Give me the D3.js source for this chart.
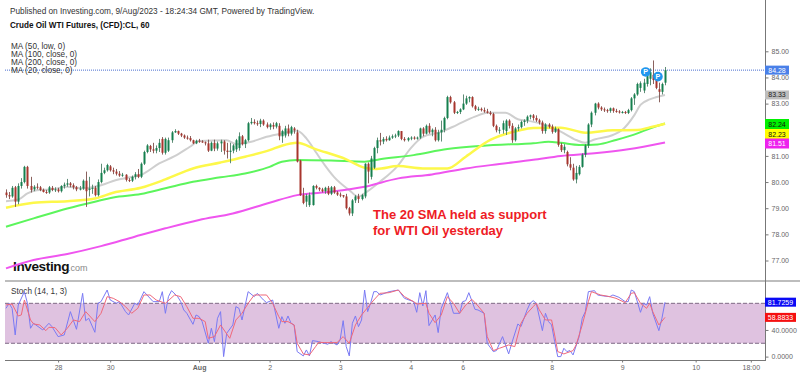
<!DOCTYPE html>
<html><head><meta charset="utf-8">
<script src="https://cdn.jsdelivr.net/npm/d3@7"></script>
<style>html,body{margin:0;padding:0;background:#fff}svg{display:block;font-family:"Liberation Sans",Arial,sans-serif}</style>
</head><body><svg id="c" width="800" height="376"></svg>
<script>
const opens=[79.60,79.50,79.45,79.80,79.25,79.85,80.00,80.58,79.85,79.72,79.82,79.80,79.70,79.62,79.60,79.78,79.70,79.72,79.65,79.85,79.90,79.95,79.88,79.80,79.72,79.75,80.05,79.70,79.75,79.78,79.50,80.00,80.35,80.45,80.60,80.45,80.40,80.32,80.25,80.28,80.08,80.05,80.20,80.30,80.20,80.70,81.15,81.38,81.25,81.20,81.30,81.65,81.12,81.20,81.60,81.90,81.95,81.85,81.78,81.70,81.68,81.60,81.48,81.58,81.55,81.52,81.48,81.20,81.50,81.28,81.48,81.55,81.20,81.15,81.20,81.25,81.30,81.75,81.45,81.60,82.25,82.30,82.25,82.22,82.35,82.20,82.10,82.18,82.12,82.15,81.75,81.78,82.05,81.85,82.05,81.90,80.82,79.50,79.25,79.12,79.12,79.85,79.78,79.72,79.65,79.78,79.55,79.80,79.60,79.52,79.50,79.45,79.00,78.80,79.30,79.45,79.35,79.45,80.70,80.20,80.55,81.30,81.60,81.55,81.65,81.60,81.70,81.75,81.78,81.95,81.65,81.60,81.68,81.70,81.66,81.70,82.05,81.85,82.15,81.90,82.00,81.60,81.90,82.00,82.45,83.25,83.05,82.65,82.68,82.78,83.00,83.20,83.25,82.90,82.78,82.80,82.75,82.70,82.65,82.60,82.15,81.98,82.00,81.95,82.35,82.15,81.60,82.05,82.10,82.30,82.35,82.50,82.55,82.45,82.36,82.28,81.95,82.20,82.12,81.92,82.02,81.42,81.22,81.15,80.68,80.55,80.10,80.30,80.58,81.05,81.40,82.20,82.65,83.00,82.85,82.78,82.75,82.72,82.82,82.72,82.70,82.66,82.68,82.64,82.75,83.20,83.35,83.60,83.50,83.75,83.95,84.10,84.15,83.55,83.45,83.80];
const highs=[79.72,79.62,79.85,79.85,79.95,80.15,80.62,80.62,80.20,79.88,79.95,79.85,79.75,79.70,79.85,79.85,79.80,79.78,79.88,79.98,80.12,80.00,79.95,79.85,79.85,80.10,80.40,80.20,79.90,79.85,80.10,80.70,80.55,80.70,80.65,80.55,80.50,80.42,80.35,80.30,80.15,80.25,80.38,80.50,80.75,81.20,81.45,81.42,81.50,81.40,81.65,81.72,81.70,81.70,81.95,82.02,81.97,81.88,81.82,81.78,81.76,81.62,81.62,81.65,81.60,81.55,81.62,81.55,81.62,81.55,81.62,81.60,81.50,81.50,81.45,81.65,81.90,81.80,81.65,82.30,82.45,82.40,82.35,82.42,82.40,82.28,82.25,82.28,82.30,82.25,82.00,82.15,82.20,82.15,82.10,82.00,80.85,79.78,79.55,79.60,79.88,79.90,79.80,79.78,79.82,79.85,79.85,79.85,79.65,79.60,79.50,79.55,79.05,79.35,79.50,79.55,79.55,80.72,80.75,81.00,81.35,81.70,81.88,81.72,81.75,81.78,81.82,81.85,81.98,81.95,81.72,81.72,81.75,81.75,81.74,82.08,82.10,82.20,82.25,82.05,82.10,82.00,82.35,82.50,83.30,83.30,83.10,82.72,82.82,83.35,83.30,83.28,83.28,82.95,82.88,82.85,82.85,82.80,82.72,82.65,82.20,82.10,82.35,82.40,82.40,82.25,82.10,82.20,82.35,82.40,82.55,82.58,82.60,82.55,82.42,82.35,82.25,82.25,82.20,82.12,82.05,81.50,81.45,81.20,80.95,80.70,80.62,80.65,81.10,81.45,82.25,82.70,83.03,83.05,82.90,82.85,82.80,82.85,82.85,82.80,82.75,82.72,82.72,82.80,83.25,83.40,83.80,83.85,83.95,84.10,84.35,84.65,84.20,83.80,83.80,84.40];
const lows=[79.40,79.35,79.40,79.05,79.15,79.75,79.95,79.75,79.60,79.65,79.72,79.65,79.60,79.55,79.55,79.65,79.62,79.60,79.60,79.75,79.82,79.80,79.72,79.65,79.68,79.70,79.05,79.45,79.55,79.45,79.45,79.95,80.30,80.40,80.40,80.30,80.25,80.20,80.20,80.02,80.00,80.00,80.10,80.15,80.15,80.65,81.10,81.15,81.10,81.10,81.15,81.05,81.05,81.15,81.50,81.88,81.80,81.72,81.65,81.62,81.55,81.45,81.45,81.50,81.50,81.40,81.15,81.18,81.18,81.20,81.15,81.05,80.90,80.72,81.10,81.15,81.20,81.40,81.30,81.55,82.20,82.20,82.15,82.10,82.15,82.05,82.00,82.02,82.05,81.60,81.50,81.70,81.75,81.78,81.85,80.75,79.47,79.15,79.05,79.05,79.10,79.72,79.65,79.60,79.55,79.50,79.50,79.55,79.47,79.42,79.40,78.95,78.72,78.70,79.20,79.20,79.30,79.38,79.95,80.10,80.50,81.10,81.40,81.45,81.55,81.58,81.65,81.68,81.72,81.60,81.55,81.55,81.60,81.62,81.62,81.65,81.75,81.82,81.85,81.75,81.55,81.55,81.55,81.90,82.40,83.00,82.60,82.60,82.60,82.75,82.95,83.05,82.85,82.72,82.72,82.70,82.65,82.62,82.55,82.10,81.90,81.85,81.85,81.80,82.05,81.50,81.55,81.95,82.05,82.15,82.25,82.40,82.35,82.30,82.20,81.85,81.85,82.05,81.85,81.88,81.35,81.15,81.10,80.60,80.45,80.05,79.95,80.25,80.55,80.95,81.30,82.10,82.55,82.78,82.72,82.68,82.65,82.65,82.65,82.65,82.62,82.62,82.60,82.60,82.70,82.95,83.30,83.45,83.40,83.65,83.70,83.75,83.55,83.05,83.35,83.70];
const closes=[79.50,79.45,79.78,79.25,79.85,80.00,80.58,79.85,79.70,79.82,79.80,79.70,79.62,79.60,79.80,79.70,79.72,79.65,79.85,79.90,79.95,79.88,79.80,79.72,79.75,80.05,79.65,79.75,79.78,79.50,80.00,80.35,80.45,80.65,80.45,80.40,80.32,80.25,80.28,80.08,80.05,80.20,80.30,80.20,80.70,81.15,81.40,81.25,81.20,81.30,81.50,81.12,81.65,81.60,81.90,81.95,81.85,81.78,81.70,81.68,81.60,81.48,81.58,81.55,81.52,81.48,81.20,81.50,81.28,81.48,81.55,81.20,81.15,81.20,81.40,81.60,81.75,81.45,81.60,82.25,82.30,82.25,82.22,82.35,82.20,82.10,82.20,82.12,82.25,81.75,81.95,82.05,81.85,82.10,81.98,80.78,79.50,79.20,79.48,79.50,79.85,79.78,79.72,79.65,79.78,79.55,79.80,79.60,79.52,79.50,79.45,79.00,78.80,79.30,79.45,79.35,79.50,80.70,80.40,80.90,81.30,81.60,81.55,81.65,81.60,81.70,81.75,81.78,81.95,81.65,81.60,81.68,81.70,81.66,81.70,82.05,81.85,82.15,81.90,82.00,81.60,81.90,82.00,82.45,83.25,83.05,82.65,82.68,82.78,83.00,83.20,83.25,82.90,82.78,82.80,82.75,82.70,82.65,82.60,82.15,81.98,82.00,82.25,82.35,82.15,81.60,82.05,82.10,82.30,82.35,82.50,82.55,82.45,82.36,82.28,81.95,82.20,82.12,81.92,82.05,81.42,81.22,81.35,80.68,80.55,80.10,80.35,80.58,81.05,81.40,82.20,82.65,83.00,82.85,82.78,82.75,82.72,82.82,82.72,82.70,82.66,82.68,82.64,82.75,83.20,83.35,83.75,83.78,83.80,84.05,84.20,83.90,83.60,83.45,83.75,84.28];

const ma20Idx=[0,4,7,10,15,20,25,31,36,40,44,50,55,60,63,72,75,80,85,90,95,98,101,104,107,112,115,117,122,128,132,136,142,147,153,157,163,167,171,176,181,186,189,192,198,201,205,207,210,212,215];
const ma20=[79.27,79.33,79.57,79.69,79.72,79.82,79.76,79.88,80.08,80.17,80.27,80.71,80.99,81.35,81.57,81.60,81.45,81.54,81.73,81.86,81.96,81.67,81.16,80.65,80.20,79.69,79.44,79.57,80.01,80.65,81.29,81.73,81.92,82.18,82.50,82.65,82.65,82.40,82.33,82.18,81.93,81.61,81.50,81.63,81.80,81.99,82.56,82.95,83.16,83.24,83.33];
const ma50Idx=[0,9,20,29,35,44,52,61,70,78,86,90,95,101,111,117,121,128,136,144,150,158,167,172,181,189,198,206,210,215];
const ma50=[79.02,79.21,79.27,79.37,79.59,79.78,80.10,80.52,80.75,80.97,81.22,81.39,81.50,81.26,80.87,80.55,80.50,80.61,80.52,80.52,80.97,81.61,81.96,82.07,82.08,81.89,81.98,81.99,82.09,82.23];
const ma100Idx=[0,9,20,29,35,44,52,61,70,78,86,90,95,106,117,122,133,144,155,166,172,177,181,187,193,199,206,210,215];
const ma100=[78.29,78.61,78.99,79.25,79.41,79.54,79.76,80.01,80.18,80.33,80.58,80.78,80.84,80.82,80.78,80.87,81.03,81.26,81.38,81.45,81.48,81.54,81.50,81.42,81.44,81.61,81.86,82.05,82.24];
const ma200Idx=[0,9,20,31,42,52,63,74,86,95,106,117,128,139,150,161,172,181,192,203,215];
const ma200=[76.70,77.02,77.25,77.55,77.91,78.23,78.55,78.80,79.21,79.50,79.63,79.82,80.14,80.29,80.52,80.69,80.85,81.00,81.10,81.25,81.51];

const blueIdx=[0,1,2,3,4,6,7,8,9,12,14,15,17,19,21,23,25,26,27,29,30,31,33,34,36,37,39,40,42,43,45,46,48,50,51,52,53,54,56,57,58,59,61,62,63,64,66,67,68,69,70,71,72,74,75,76,77,79,81,82,84,85,87,89,90,91,92,93,94,95,97,98,99,100,102,103,105,106,108,109,110,111,112,113,114,115,116,117,118,119,120,121,122,125,128,130,133,134,135,136,137,138,140,141,142,144,146,148,149,150,151,153,154,156,157,159,160,162,164,165,167,168,170,171,172,173,175,176,177,178,179,180,181,182,183,184,185,187,188,189,190,192,193,195,197,198,200,202,203,204,205,207,208,209,210,211,213,214,215];
const blue=[72.5,80,72.5,32.5,77.5,97.5,80,42.5,50,40,50,45,30,32.5,67.5,41,95,54,57.5,36.5,80,82.5,100,85,80,82.5,67.5,62.5,80,77.5,97.5,92.5,82.5,82.5,97.5,65,90,99,90,82.5,70,65,48.5,62.5,60,52.5,20,42.5,22.5,57.5,67.5,0,35,47.5,75,72.5,55,97.5,90,95,85,81,85,42.5,60,50,61,50,47.5,7.5,1,10,1,24,22.5,21,18.5,22.5,17.5,25,54,15,1,50,61,45,55,100,67.5,81,97.5,97.5,92.5,97.5,100,87.5,82.5,66.5,96,76,99,46.5,62.5,36,72.5,96,65,65,82.5,84,96,71,70,65,20,7.5,9,30,4,20,49,45,70,80,84,80,39,65,52.5,47.5,22.5,0,0,12.5,7.5,9,2.5,30,57.5,67.5,97.5,99,92.5,91,90,92.5,89,82.5,82.5,100,97.5,66.5,80,77.5,90,65,39,57.5,81.73];
const redIdx=[0,2,4,5,6,8,9,11,13,14,16,18,20,22,24,26,29,31,33,35,37,39,41,43,45,47,49,52,55,57,59,61,63,65,66,68,70,73,75,77,79,81,83,85,87,89,90,92,94,95,97,99,101,102,104,107,108,110,112,114,116,120,122,125,128,130,133,134,137,138,140,142,144,146,148,150,152,154,156,157,159,161,164,166,168,170,172,173,174,176,178,179,180,182,185,186,188,190,191,194,197,199,202,204,205,207,209,210,211,213,215];
const red=[77.5,79,61,62.5,85,55,49,47.5,39,44,43.5,32.5,42.5,55,52.5,67.5,52.5,65,90,87.5,82.5,75,65,72.5,92.5,92.5,85,80,92.5,90,75,57.5,57.5,52.5,27.5,30,47.5,27.5,55,65,80,92.5,92.5,92.5,80,60,52.5,52.5,47.5,20,4,2.5,15,21.5,21,21,21,30,20,47.5,62.5,85,95,96,100,90,82.5,79,80,65,51,62.5,90,80,65,77.5,86,76,65,30,9,12.5,17.5,15,50,65,75,80,70,55,55,32.5,7.5,4,9,17.5,47.5,82.5,97.5,92.5,90,87.5,81,95,96,80,72.5,80,67.5,47.5,58.88];

const priceTicks=[77,78,79,80,81,83,84,85];
const stochTicks=[0,40];
const dateIdx=[17,34,63,86,109,132,149,178,201,225,243];
const dateLabels=["28","30","Aug","2","3","4","6","8","9","10","18:00"];
const eventIdx=[208.7,212.7];
const eventPrice=[84.21,84.03];
const maLegend=["MA (50, low, 0)","MA (100, close, 0)","MA (200, close, 0)","MA (20, close, 0)"];
const lastPrice=84.28;

const svg=d3.select("#c");
const nC=closes.length;
const x=d3.scaleLinear().domain([0,nC-1]).range([6,665]);
const y=d3.scaleLinear().domain([77,85]).range([260.5,51.3]);
const ys=d3.scaleLinear().domain([0,100]).range([356.6,290]);
const R=765;
const AF=7;

svg.append("rect").attr("x",5).attr("width",R-5).attr("y",ys(80)).attr("height",ys(20)-ys(80)).attr("fill","#dfc2e0");
[80,20].forEach(v=>svg.append("line").attr("x1",5).attr("x2",R).attr("y1",ys(v)).attr("y2",ys(v)).attr("stroke","#7f6a85").attr("stroke-dasharray","4,2"));

svg.append("rect").attr("x",5).attr("y",280).attr("width",795).attr("height",2).attr("fill","#bdbdbd");
svg.append("line").attr("x1",5).attr("x2",R).attr("y1",360.5).attr("y2",360.5).attr("stroke","#777");

svg.append("line").attr("x1",5).attr("x2",R).attr("y1",y(lastPrice)).attr("y2",y(lastPrice)).attr("stroke","#4a6fd0").attr("stroke-dasharray","1,1");

const T=(s,xp,yp,sz,fill,w)=>svg.append("text").attr("x",xp).attr("y",yp).attr("font-size",sz).attr("fill",fill).attr("font-weight",w||400).text(s);
T("Published on Investing.com, 9/Aug/2023 - 18:24:34 GMT, Powered by TradingView.",10,13.5,8.25,"#333");
T("Crude Oil WTI Futures, (CFD):CL, 60",10,28,8.15,"#111",700);
maLegend.forEach((s,i)=>T(s,11,[48.5,56.5,64.7,73][i],8.2,"#333"));
T("Stoch (14, 1, 3)",11,294,8.2,"#333");
T("The 20 SMA held as support",373,219,13,"#ee1c25",700);
T("for WTI Oil yesterday",373,235,13,"#ee1c25",700);
T("Investing",13,270.5,13.6,"#111",700).attr("letter-spacing",-0.4);
T(".com",68,270.5,9,"#888");

const maLine=(idx,vals,col,w)=>{
  const g=d3.line().x(d=>x(d[0])).y(d=>y(d[1])).curve(d3.curveMonotoneX);
  svg.append("path").attr("d",g(idx.map((k,i)=>[k,vals[i]]))).attr("fill","none").attr("stroke",col).attr("stroke-width",w);
};
maLine(ma20Idx,ma20,"#cfcfcf",2);
maLine(ma200Idx,ma200,"#ef55ef",2);
maLine(ma100Idx,ma100,"#5cf55c",2);
maLine(ma50Idx,ma50,"#fdf84a",2.5);

const up="#15804e",dn="#a8352d";
const cg=svg.append("g").selectAll("g").data(d3.range(nC)).join("g");
cg.append("line").attr("x1",i=>Math.round(x(i))+.5).attr("x2",i=>Math.round(x(i))+.5)
  .attr("y1",i=>y(highs[i])).attr("y2",i=>y(lows[i])).attr("stroke",i=>closes[i]>=opens[i]?"#4d7f68":"#7d504c").attr("stroke-width",.9);
cg.append("rect").attr("x",i=>Math.round(x(i))-.5).attr("width",2)
  .attr("y",i=>y(Math.max(opens[i],closes[i])))
  .attr("height",i=>Math.max(1,Math.abs(y(opens[i])-y(closes[i]))))
  .attr("fill",i=>closes[i]>=opens[i]?up:dn);

eventIdx.forEach((k,i)=>{
  svg.append("circle").attr("cx",x(k)).attr("cy",y(eventPrice[i])).attr("r",4.8).attr("fill","#1f96ee");
  svg.append("text").attr("x",x(k)).attr("y",y(eventPrice[i])+2.5).attr("text-anchor","middle").attr("font-size",7).attr("font-weight",700).attr("fill","#fff").text("P");
});

const sl=(idx,vals,col)=>{
  const g=d3.line().x(d=>x(d[0])).y(d=>ys(d[1]));
  svg.append("path").attr("d",g(idx.map((k,i)=>[k,vals[i]]))).attr("fill","none").attr("stroke",col).attr("stroke-width",1);
};
sl(blueIdx,blue,"#7a7af4");
sl(redIdx,red,"#f0687a");

const styleAxis=g=>{g.selectAll("path,line").attr("stroke","#777");g.selectAll("text").attr("fill","#666").attr("font-size",AF).attr("font-family",'"Liberation Sans",Arial,sans-serif');};
svg.append("g").attr("transform",`translate(${R+.5},0)`).call(d3.axisRight(y).tickValues(priceTicks).tickFormat(d3.format(".2f")).tickSize(3).tickSizeOuter(0)).call(styleAxis).call(g=>g.select("path").attr("d","M0,0V361"));
svg.append("g").attr("transform",`translate(${R+.5},0)`).call(d3.axisRight(ys).tickValues(stochTicks).tickFormat(d3.format(".4f")).tickSize(3)).call(styleAxis).call(g=>g.select("path").remove());
svg.append("g").attr("transform","translate(0,360.5)").call(d3.axisBottom(x).tickValues(dateIdx).tickFormat((d,i)=>dateLabels[i]).tickSize(2)).call(styleAxis).call(g=>{g.select("path").remove();g.selectAll("text").attr("dy","0.9em").attr("y",3);g.selectAll(".tick").filter((d,i)=>dateLabels[i]==="Aug").select("text").attr("font-weight",700);});

const tag=(v,scale,fmt,bg,fg,h,w)=>{
  const cy=scale(v);
  svg.append("rect").attr("x",R).attr("y",cy-h/2).attr("width",w).attr("height",h).attr("fill",bg);
  svg.append("text").attr("x",R+w/2).attr("y",cy+2.5).attr("text-anchor","middle").attr("font-size",AF).attr("fill",fg).text(d3.format(fmt)(v));
};
tag(lastPrice,y,".2f","#4a80e8","#fff",9,24);
tag(83.33,y,".2f","#bdbdbd","#222",9,24);
[[82.24,"#00f000","#111",124],[82.23,"#ffff00","#111",134],[81.51,"#ee22ee","#fff",143.5]].forEach(([v,bg,fg,cy])=>{
  svg.append("rect").attr("x",R).attr("y",cy-5).attr("width",24).attr("height",10).attr("fill",bg);
  svg.append("text").attr("x",R+12).attr("y",cy+2.5).attr("text-anchor","middle").attr("font-size",AF).attr("fill",fg).text(v.toFixed(2));
});
tag(81.7259,ys,".4f","#0a0af5","#fff",9,31);
tag(58.8833,ys,".4f","#f51010","#fff",9,31);
</script></body></html>
